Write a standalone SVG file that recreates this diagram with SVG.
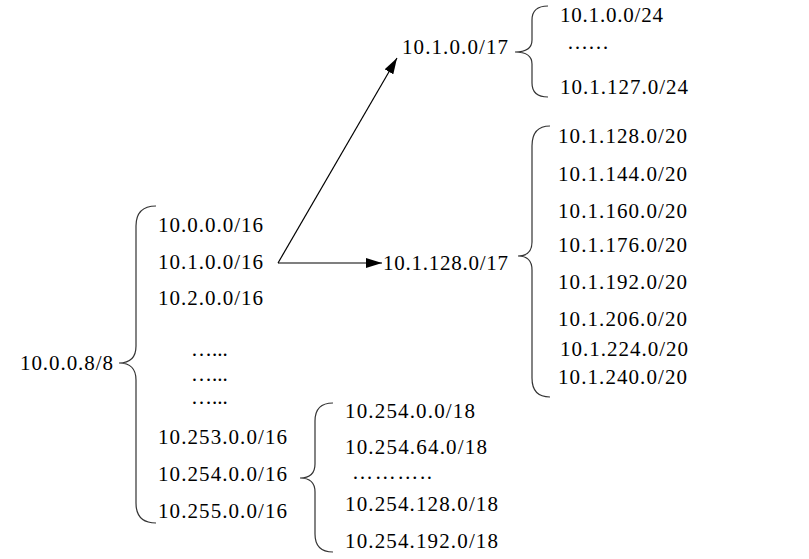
<svg xmlns="http://www.w3.org/2000/svg" width="809" height="559" viewBox="0 0 809 559">
<style>
text{font-family:"Liberation Serif","Times New Roman",serif;font-size:21px;fill:#000}
.br{fill:none;stroke:#333;stroke-width:1.2}
.ln{fill:none;stroke:#000;stroke-width:1.2}
</style>
<defs>
<marker id="ah" viewBox="0 0 16 10" refX="16" refY="5" markerWidth="16" markerHeight="10" markerUnits="userSpaceOnUse" orient="auto">
<path d="M0,0 L16,5 L0,10 Z" fill="#000"/>
</marker>
</defs>
<rect width="809" height="559" fill="#fff"/>
<g id="connectors">
<line class="ln" x1="278" y1="263" x2="397" y2="58" marker-end="url(#ah)"/>
<line class="ln" x1="278" y1="263" x2="382" y2="263" marker-end="url(#ah)"/>
</g>
<g id="root">
<text x="20" y="370" textLength="93" lengthAdjust="spacing">10.0.0.8/8</text>
<path class="br" d="M156,206 Q136,206 136,226 L136,346 Q136,363 119,363 Q136,363 136,380 L136,503 Q136,523 156,523"/>
</g>
<g id="level16">
<text x="158" y="232" textLength="105" lengthAdjust="spacing">10.0.0.0/16</text>
<text x="158" y="269" textLength="105" lengthAdjust="spacing">10.1.0.0/16</text>
<text x="158" y="305" textLength="105" lengthAdjust="spacing">10.2.0.0/16</text>
<text x="191" y="356">…...</text>
<text x="191" y="381">…...</text>
<text x="191" y="404">…...</text>
<text x="158" y="444" textLength="129" lengthAdjust="spacing">10.253.0.0/16</text>
<text x="158" y="481" textLength="129" lengthAdjust="spacing">10.254.0.0/16</text>
<text x="158" y="518" textLength="129" lengthAdjust="spacing">10.255.0.0/16</text>
</g>
<g id="n17a">
<text x="402" y="54" textLength="106" lengthAdjust="spacing">10.1.0.0/17</text>
<path class="br" d="M548,6 Q532,6 532,20 L532,40 Q532,52 515,52 Q532,52 532,64 L532,83 Q532,97 548,97"/>
<text x="560" y="22" textLength="103" lengthAdjust="spacing">10.1.0.0/24</text>
<text x="567" y="49">……</text>
<text x="560" y="94" textLength="128" lengthAdjust="spacing">10.1.127.0/24</text>
</g>
<g id="n17b">
<text x="383" y="270" textLength="125" lengthAdjust="spacing">10.1.128.0/17</text>
<path class="br" d="M550,126 Q532,126 532,146 L532,242 Q532,256 518,256 Q532,256 532,270 L532,378 Q532,397 550,397"/>
<text x="558" y="143" textLength="129" lengthAdjust="spacing">10.1.128.0/20</text>
<text x="558" y="181" textLength="129" lengthAdjust="spacing">10.1.144.0/20</text>
<text x="558" y="218" textLength="129" lengthAdjust="spacing">10.1.160.0/20</text>
<text x="558" y="252" textLength="129" lengthAdjust="spacing">10.1.176.0/20</text>
<text x="558" y="289" textLength="129" lengthAdjust="spacing">10.1.192.0/20</text>
<text x="558" y="326" textLength="129" lengthAdjust="spacing">10.1.206.0/20</text>
<text x="560" y="356" textLength="128" lengthAdjust="spacing">10.1.224.0/20</text>
<text x="558" y="384" textLength="129" lengthAdjust="spacing">10.1.240.0/20</text>
</g>
<g id="n254">
<path class="br" d="M333,403 Q315,403 315,421 L315,464 Q315,478 300,478 Q315,478 315,492 L315,534 Q315,552 333,552"/>
<text x="345" y="418" textLength="130" lengthAdjust="spacing">10.254.0.0/18</text>
<text x="345" y="454" textLength="142" lengthAdjust="spacing">10.254.64.0/18</text>
<text x="352" y="479" textLength="80" lengthAdjust="spacing">………..</text>
<text x="345" y="511" textLength="153" lengthAdjust="spacing">10.254.128.0/18</text>
<text x="345" y="548" textLength="153" lengthAdjust="spacing">10.254.192.0/18</text>
</g>
</svg>
